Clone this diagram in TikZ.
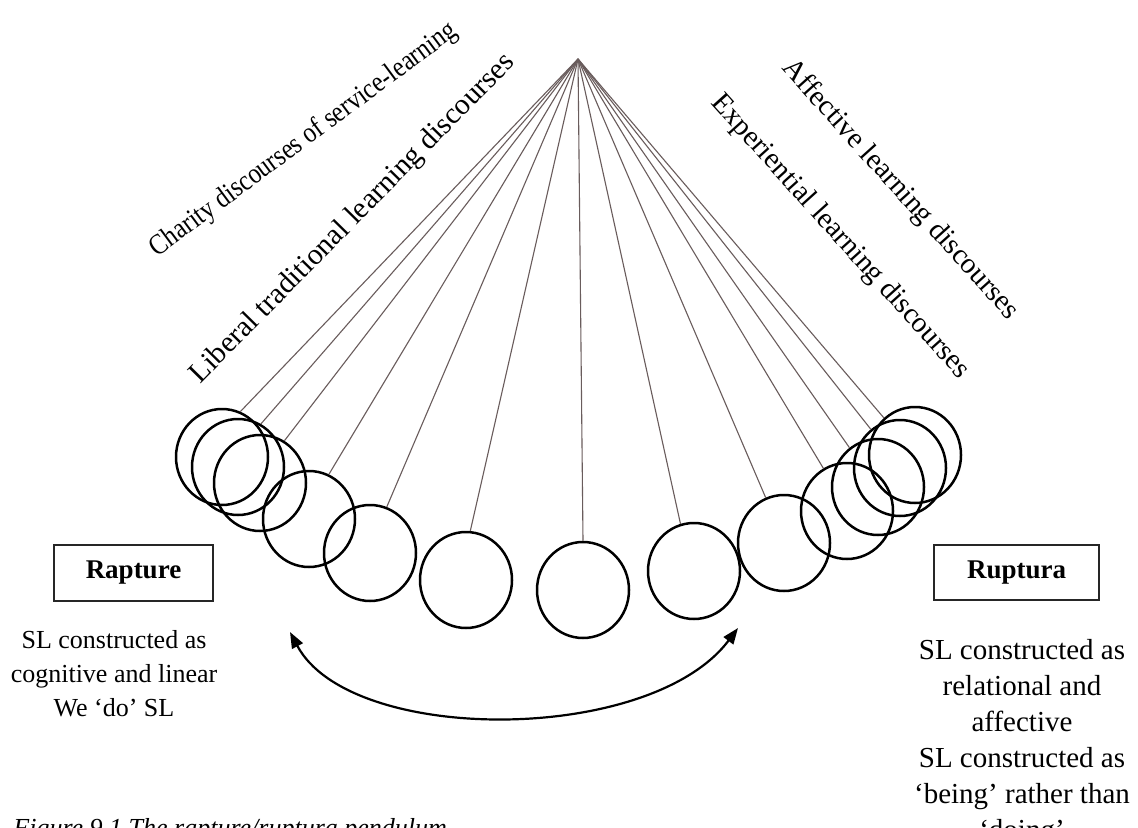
\documentclass[tikz,border=0pt]{standalone}
\usepackage{fontspec}
\setmainfont{Liberation Serif}
\usetikzlibrary{shapes.geometric,arrows.meta}
\definecolor{strcol}{RGB}{105,92,92}
\begin{document}
\begin{tikzpicture}[x=0.5pt,y=-0.5pt,
  bob/.style={draw=black, line width=1.25pt, ellipse, minimum width=46pt, minimum height=48pt, inner sep=0pt},
  pstring/.style={draw=strcol, line width=0.55pt},
  labbox/.style={draw=black!85, line width=0.7pt, inner sep=0pt, font=\fontsize{13.5}{16}\selectfont\bfseries},
  diag/.style={inner sep=0pt},
  swing/.style={line width=1.1pt, {Triangle[length=8pt,width=6pt]}-{Triangle[length=8pt,width=6pt]}}]
\useasboundingbox[fill=white] (0,0) rectangle (1138,828);

\coordinate (pv) at (578,59);

% bobs
\node[bob] (c1) at (222,457) {};
\node[bob] (c2) at (238,467) {};
\node[bob] (c3) at (260,483) {};
\node[bob] (c4) at (309,519) {};
\node[bob] (c5) at (370,553) {};
\node[bob] (c6) at (466,580) {};
\node[bob] (c7) at (583,590) {};
\node[bob] (r1) at (694,571) {};
\node[bob] (r2) at (784,543) {};
\node[bob] (r3) at (847,511) {};
\node[bob] (r4) at (878,487) {};
\node[bob] (r5) at (900,468) {};
\node[bob] (r6) at (915,455) {};

% strings
\draw[pstring] (pv) -- (c1.68);
\draw[pstring] (pv) -- (c2.62);
\draw[pstring] (pv) -- (c3.60);
\draw[pstring] (pv) -- (c4.66);
\draw[pstring] (pv) -- (c5.70);
\draw[pstring] (pv) -- (c6.85);
\draw[pstring] (pv) -- (c7.north);
\draw[pstring] (pv) -- (r1.106);
\draw[pstring] (pv) -- (r2.112);
\draw[pstring] (pv) -- (r3.119);
\draw[pstring] (pv) -- (r4.126);
\draw[pstring] (pv) -- (r5.127);
\draw[pstring] (pv) -- (r6.130);

% diagonal labels
\node[diag, rotate=36.5, font=\fontsize{14.5}{18}\selectfont] (lab1) at (304,140) {\scalebox{0.85}[1]{Charity discourses of service-learning}};
\node[diag, rotate=45.5, font=\fontsize{14.8}{18}\selectfont] (lab2) at (353,219) {Liberal traditional learning discourses};
\node[diag, rotate=-48, font=\fontsize{14.5}{18}\selectfont] (lab3) at (900,190) {Affective learning discourses};
\node[diag, rotate=-48, font=\fontsize{14.5}{18}\selectfont] (lab4) at (840,237) {Experiential learning discourses};

% boxes
\node[labbox, minimum width=79.5pt, minimum height=28pt] (rap) at (133.5,573) {Rapture};
\node[labbox, minimum width=82.5pt, minimum height=27.5pt] (rup) at (1016.5,572.5) {Ruptura};

% descriptions
\node[anchor=north, inner sep=0pt, align=center, font=\fontsize{13}{17}\selectfont] (ltext) at (114,630)
  {SL constructed as\\cognitive and linear\\We ‘do’ SL};
\node[anchor=north, inner sep=0pt, align=center, font=\fontsize{14.5}{18}\selectfont] (rtext) at (1022,639)
  {SL constructed as\\relational and\\affective\\SL constructed as\\‘being’ rather than\\‘doing’};

% swing arrow
\coordinate (aL) at (290,632);
\coordinate (aR) at (738,628);
\draw[swing] (aL) .. controls (350,745) and (650,745) .. (aR);

% caption
\node[anchor=base west, inner sep=0pt, font=\fontsize{13}{16}\selectfont\itshape] (cap) at (13,836)
  {Figure 9.1 The rapture/ruptura pendulum};
\end{tikzpicture}
\end{document}
